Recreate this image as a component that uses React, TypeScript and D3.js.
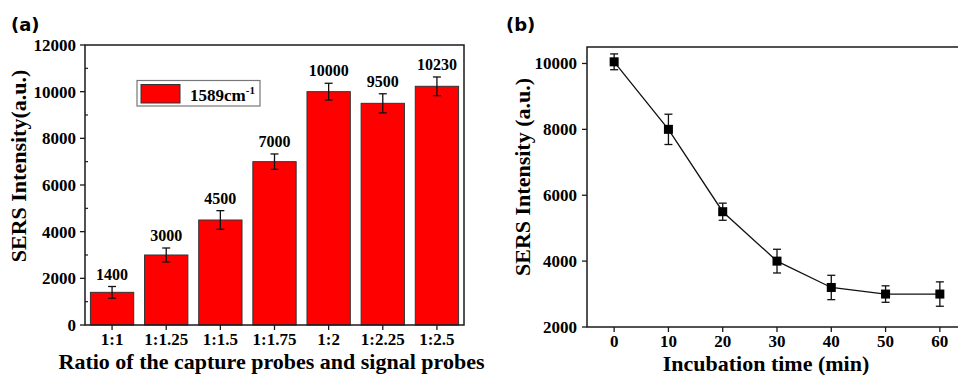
import React from "react";
import * as d3 from "d3";

const ratios = ["1:1", "1:1.25", "1:1.5", "1:1.75", "1:2", "1:2.25", "1:2.5"];
const intensityA = [1400, 3000, 4500, 7000, 10000, 9500, 10230];
const errorA = [250, 300, 400, 330, 360, 410, 400];
const yTicksA = [0, 2000, 4000, 6000, 8000, 10000, 12000];
const yMinorA = [1000, 3000, 5000, 7000, 9000, 11000];

const times = [0, 10, 20, 30, 40, 50, 60];
const intensityB = [10050, 8000, 5500, 4000, 3200, 3000, 3000];
const errorB = [240, 460, 260, 360, 370, 250, 370];
const yTicksB = [2000, 4000, 6000, 8000, 10000];

const SERIF = "'Liberation Serif', 'Times New Roman', serif";
const SANS = "'DejaVu Sans', sans-serif";
const AX = "#1a1a1a";

export default function App() {
  // Panel (a)
  const aL = 85, aR = 464, aT = 45, aB = 325;
  const xA = d3.scaleBand<string>().domain(ratios).range([aL, aR]).paddingInner(0.2).paddingOuter(0.1);
  const yA = d3.scaleLinear().domain([0, 12000]).range([aB, aT]);

  // Panel (b)
  const bL = 587, bR = 967, bT = 47, bB = 327;
  const xB = d3.scaleLinear().domain([-5, 65]).range([bL, bR]);
  const yB = d3.scaleLinear().domain([2000, 10500]).range([bB, bT]);
  const line = d3.line<number>().x((_, i) => xB(times[i])).y((d) => yB(d));

  return (
    <div style={{ position: "fixed", left: 0, top: 0 }}>
      <svg width={958} height={375} style={{ display: "block", background: "#fff" }}>
        {/* ===== Panel (a) ===== */}
        <text x={11} y={31} fontFamily={SANS} fontWeight="bold" fontSize={18}>(a)</text>
        {ratios.map((r, i) => {
          const x = xA(r)!;
          const w = xA.bandwidth();
          const cx = x + w / 2;
          const v = intensityA[i];
          const e = errorA[i];
          return (
            <g key={r}>
              <rect x={x} y={yA(v)} width={w} height={aB - yA(v)} fill="#ff0000" stroke="#333" strokeWidth={1} />
              <line x1={cx} x2={cx} y1={yA(v - e)} y2={yA(v + e)} stroke="#111" strokeWidth={1.3} />
              <line x1={cx - 4} x2={cx + 4} y1={yA(v - e)} y2={yA(v - e)} stroke="#111" strokeWidth={1.3} />
              <line x1={cx - 4} x2={cx + 4} y1={yA(v + e)} y2={yA(v + e)} stroke="#111" strokeWidth={1.3} />
              <text x={cx} y={yA(v + e) - 7} textAnchor="middle" fontFamily={SERIF} fontWeight="bold" fontSize={16}>{v}</text>
              <line x1={cx} x2={cx} y1={aB} y2={aB + 5} stroke={AX} strokeWidth={1.3} />
              <text x={cx} y={344.5} textAnchor="middle" fontFamily={SERIF} fontWeight="bold" fontSize={17}>{r}</text>
            </g>
          );
        })}
        <rect x={aL} y={aT} width={aR - aL} height={aB - aT} fill="none" stroke={AX} strokeWidth={1.5} />
        {yTicksA.map((t) => (
          <g key={t}>
            <line x1={aL - 5} x2={aL} y1={yA(t)} y2={yA(t)} stroke={AX} strokeWidth={1.3} />
            <text x={76} y={yA(t)} dy="0.35em" textAnchor="end" fontFamily={SERIF} fontWeight="bold" fontSize={17}>{t}</text>
          </g>
        ))}
        {yMinorA.map((t) => (
          <line key={t} x1={aL} x2={aL + 3} y1={yA(t)} y2={yA(t)} stroke={AX} strokeWidth={1.2} />
        ))}
        {/* legend */}
        <rect x={137} y={80.5} width={123} height={25.5} fill="#fff" stroke="#777" strokeWidth={1.2} />
        <rect x={141} y={84.5} width={39} height={18.5} fill="#ff0000" stroke="#333" strokeWidth={1} />
        <text x={190} y={101} fontFamily={SERIF} fontWeight="bold" fontSize={17}>
          1589cm<tspan dy={-7} fontSize={11}>-1</tspan>
        </text>
        <text transform={`translate(26,166) rotate(-90)`} textAnchor="middle" fontFamily={SERIF} fontWeight="bold" fontSize={22}>SERS Intensity(a.u.)</text>
        <text x={(aL + aR) / 2 - 3} y={368.5} textAnchor="middle" fontFamily={SERIF} fontWeight="bold" fontSize={22}>Ratio of the capture probes and signal probes</text>

        {/* ===== Panel (b) ===== */}
        <text x={506} y={31} fontFamily={SANS} fontWeight="bold" fontSize={18}>(b)</text>
        <rect x={bL} y={bT} width={bR - bL} height={bB - bT} fill="none" stroke={AX} strokeWidth={1.5} />
        {yTicksB.map((t) => (
          <g key={t}>
            <line x1={bL - 5} x2={bL} y1={yB(t)} y2={yB(t)} stroke={AX} strokeWidth={1.3} />
            <text x={577} y={yB(t)} dy="0.35em" textAnchor="end" fontFamily={SERIF} fontWeight="bold" fontSize={17}>{t}</text>
          </g>
        ))}
        {times.map((t) => (
          <g key={t}>
            <line x1={xB(t)} x2={xB(t)} y1={bB} y2={bB + 5} stroke={AX} strokeWidth={1.3} />
            <text x={xB(t)} y={346.5} textAnchor="middle" fontFamily={SERIF} fontWeight="bold" fontSize={17}>{t}</text>
          </g>
        ))}
        <path d={line(intensityB) ?? ""} fill="none" stroke="#111" strokeWidth={1.3} />
        {times.map((t, i) => {
          const cx = xB(t);
          const v = intensityB[i];
          const e = errorB[i];
          return (
            <g key={t}>
              <line x1={cx} x2={cx} y1={yB(v - e)} y2={yB(v + e)} stroke="#111" strokeWidth={1.3} />
              <line x1={cx - 4} x2={cx + 4} y1={yB(v - e)} y2={yB(v - e)} stroke="#111" strokeWidth={1.3} />
              <line x1={cx - 4} x2={cx + 4} y1={yB(v + e)} y2={yB(v + e)} stroke="#111" strokeWidth={1.3} />
              <rect x={cx - 4.5} y={yB(v) - 4.5} width={9} height={9} fill="#000" />
            </g>
          );
        })}
        <text transform={`translate(530,177) rotate(-90)`} textAnchor="middle" fontFamily={SERIF} fontWeight="bold" fontSize={22}>SERS Intensity (a.u.)</text>
        <text x={766} y={370.5} textAnchor="middle" fontFamily={SERIF} fontWeight="bold" fontSize={22}>Incubation time (min)</text>
      </svg>
    </div>
  );
}
